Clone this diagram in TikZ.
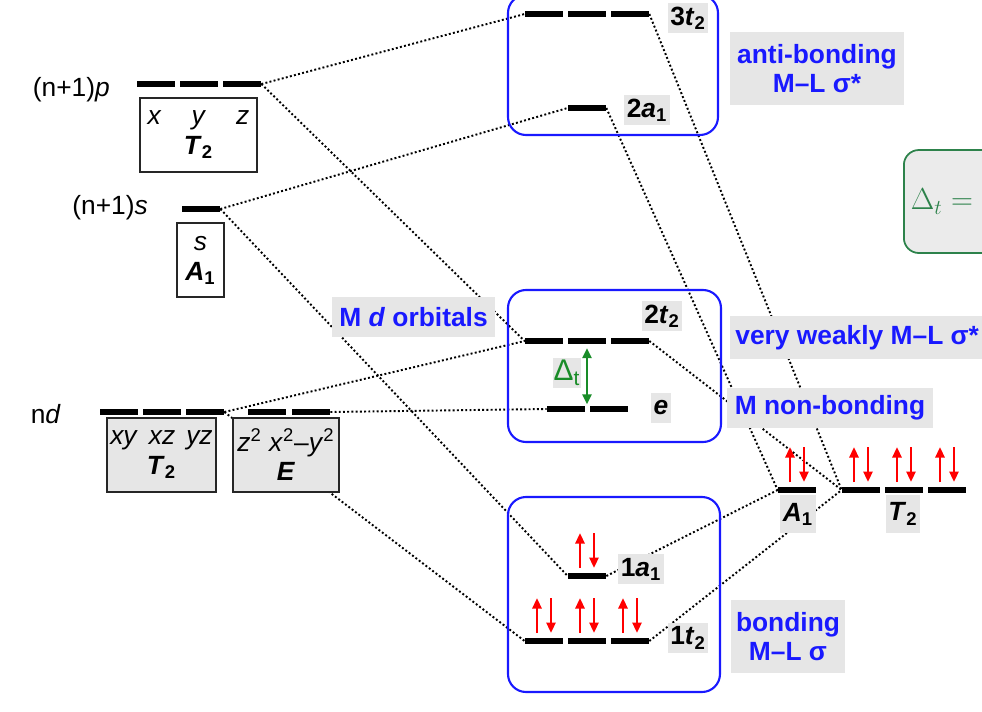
\documentclass[tikz,border=0pt]{standalone}
\usepackage{fontspec}
\setmainfont{Liberation Sans}
\usetikzlibrary{arrows.meta}
\definecolor{tagfill}{RGB}{230,230,230}
\definecolor{moblue}{RGB}{25,25,255}
\definecolor{dgreen}{RGB}{25,140,40}
\definecolor{boxgreen}{RGB}{45,130,75}
\begin{document}
\begin{tikzpicture}[x=0.2mm,y=0.2mm,
  font=\fontsize{15}{17}\selectfont,
  bar/.style={fill=black, inner sep=0pt, minimum width=7.6mm, minimum height=1.1mm},
  link/.style={line width=1.1pt, dash pattern=on 1.1pt off 1.3pt},
  tag/.style={fill=tagfill, inner sep=1.5pt, minimum height=6mm},
  bluetag/.style={fill=tagfill, inner sep=1pt, text=moblue, font=\fontsize{15}{16.5}\selectfont\bfseries, align=center},
  symbox/.style={draw=black!85, line width=0.9pt, inner sep=0pt, align=center, minimum height=14.8mm},
  mobox/.style={draw=moblue, line width=1.2pt, rounded corners=3.6mm},
  elec/.style={red, line width=1.7pt, -{Triangle[length=2.1mm,width=1.8mm]}}
]
\useasboundingbox (0,0) rectangle (982,-712);
% atomic levels of M
\node[bar] (p1) at (156,-84) {};
\node[bar] (p2) at (199,-84) {};
\node[bar] (p3) at (242,-84) {};
\node[bar] (s1) at (201,-209) {};
\node[bar] (d1) at (119,-412) {};
\node[bar] (d2) at (162,-412) {};
\node[bar] (d3) at (205,-412) {};
\node[bar] (d4) at (267,-412) {};
\node[bar] (d5) at (311,-412) {};
% molecular orbitals
\node[bar] (at1) at (544,-14) {};
\node[bar] (at2) at (587,-14) {};
\node[bar] (at3) at (630,-14) {};
\node[bar] (aa) at (587,-108) {};
\node[bar] (nt1) at (544,-341) {};
\node[bar] (nt2) at (587,-341) {};
\node[bar] (nt3) at (630,-341) {};
\node[bar] (ne1) at (566,-409) {};
\node[bar] (ne2) at (609,-409) {};
\node[bar] (ba) at (587,-576) {};
\node[bar] (bt1) at (544,-641) {};
\node[bar] (bt2) at (587,-641) {};
\node[bar] (bt3) at (630,-641) {};
% ligand group orbitals
\node[bar] (la) at (797,-490) {};
\node[bar] (lt1) at (861,-490) {};
\node[bar] (lt2) at (904,-490) {};
\node[bar] (lt3) at (947,-490) {};

% correlation lines
\draw[link] (p3.east) -- (at1.west);
\draw[link] (p3.east) -- (nt1.west);
\draw[link] (s1.east) -- (aa.west);
\draw[link] (s1.east) -- (ba.west);
\draw[link] (d3.east) -- (nt1.west);
\draw[link] (d3.east) -- (bt1.west);
\draw[link] (d5.east) -- (ne1.west);
\draw[link] (at3.east) -- (lt1.west);
\draw[link] (aa.east) -- (la.west);
\draw[link] (nt3.east) -- (lt1.west);
\draw[link] (ba.east) -- (la.west);
\draw[link] (bt3.east) -- (lt1.west);

% electrons
\foreach \b in {ba,bt1,bt2,bt3,la,lt1,lt2,lt3}{
  \draw[elec] ([shift={(-7,8)}]\b.center) -- ([shift={(-7,43)}]\b.center);
  \draw[elec] ([shift={(7,43)}]\b.center) -- ([shift={(7,8)}]\b.center);
}
\draw[dgreen, line width=1.5pt, {Triangle[length=2mm,width=1.8mm]}-{Triangle[length=2mm,width=1.8mm]}]
  ([yshift=-0.8mm]nt2.south) -- ([yshift=0.3mm]nt2.south |- ne1.north);

% atomic labels
\node[anchor=base east] (lp) at (116,-96) {(n+1)\textit{p}};
\node[anchor=base east] (ls) at (154,-214) {(n+1)\textit{s}};
\node[anchor=base east] (ld) at (67,-423) {n\textit{d}};
\node[symbox, fill=white, minimum width=23.4mm] (pbox) at (198.5,-135)
  {\textit{x}\hspace{6mm}\textit{y}\hspace{6mm}\textit{z}\\\textbf{\textit{T}\textsubscript{2}}};
\node[symbox, fill=white, minimum width=9.4mm] (sbox) at (200.5,-260)
  {\textit{s}\\\textbf{\textit{A}\textsubscript{1}}};
\node[symbox, fill=tagfill, minimum width=21.8mm] (dtbox) at (161.5,-455)
  {\textit{xy}\hspace{2.2mm}\textit{xz}\hspace{2.2mm}\textit{yz}\\\textbf{\textit{T}\textsubscript{2}}};
\node[symbox, fill=tagfill, minimum width=21.2mm] (debox) at (286,-455)
  {\textit{z}\textsuperscript{2} \textit{x}\textsuperscript{2}–\textit{y}\textsuperscript{2}\\\textbf{\textit{E}}};

% MO labels
\node[tag] (l3t2) at (688,-18) {\textbf{3\textit{t}\textsubscript{2}}};
\node[tag] (l2a1) at (647,-110) {\textbf{2\textit{a}\textsubscript{1}}};
\node[tag] (l2t2) at (662,-316) {\textbf{2\textit{t}\textsubscript{2}}};
\node[tag] (le) at (661,-408) {\textbf{\textit{e}}};
\node[tag] (l1a1) at (641,-569) {\textbf{1\textit{a}\textsubscript{1}}};
\node[tag] (l1t2) at (688,-638) {\textbf{1\textit{t}\textsubscript{2}}};
\node[tag, minimum height=7.6mm] (lA1) at (798,-514) {\textbf{\textit{A}\textsubscript{1}}};
\node[tag, minimum height=7.6mm] (lT2) at (903,-514) {\textbf{\textit{T}\textsubscript{2}}};
\node[tag, text=dgreen, inner sep=0.5pt, font=\fontsize{17}{19}\selectfont] (ldt) at (567,-373) {Δ\textsubscript{t}};

% regions
\draw[mobox] (508,5) rectangle (718,-135);
\draw[mobox] (508,-290) rectangle (721,-442);
\draw[mobox] (508,-497) rectangle (720,-692);
\node[bluetag, minimum width=34.8mm, minimum height=14.6mm] (anti) at (817,-68.5) {anti-bonding\\M–L σ*};
\node[bluetag, minimum width=32.6mm, minimum height=8mm] (mdorb) at (413.5,-317) {M \textit{d} orbitals};
\node[bluetag, anchor=west, inner xsep=1mm, minimum height=8.6mm] (weak) at (730,-337.5) {very weakly M–L σ*};
\node[bluetag, minimum width=41.2mm, minimum height=8mm] (nonb) at (830,-408) {M non-bonding};
\node[bluetag, minimum width=22.8mm, minimum height=14.6mm] (bond) at (788,-636.5) {bonding\\M–L σ};

% splitting formula
\node[draw=boxgreen, fill=tagfill!80!white, line width=1pt, rounded corners=3mm, anchor=west,
  text=boxgreen, inner xsep=1.4mm, text width=22mm, align=left, minimum height=20.6mm,
  font=\fontsize{18}{20}\selectfont] (dform) at (903,-201.5) {$\Delta_t =$};
\end{tikzpicture}
\end{document}
